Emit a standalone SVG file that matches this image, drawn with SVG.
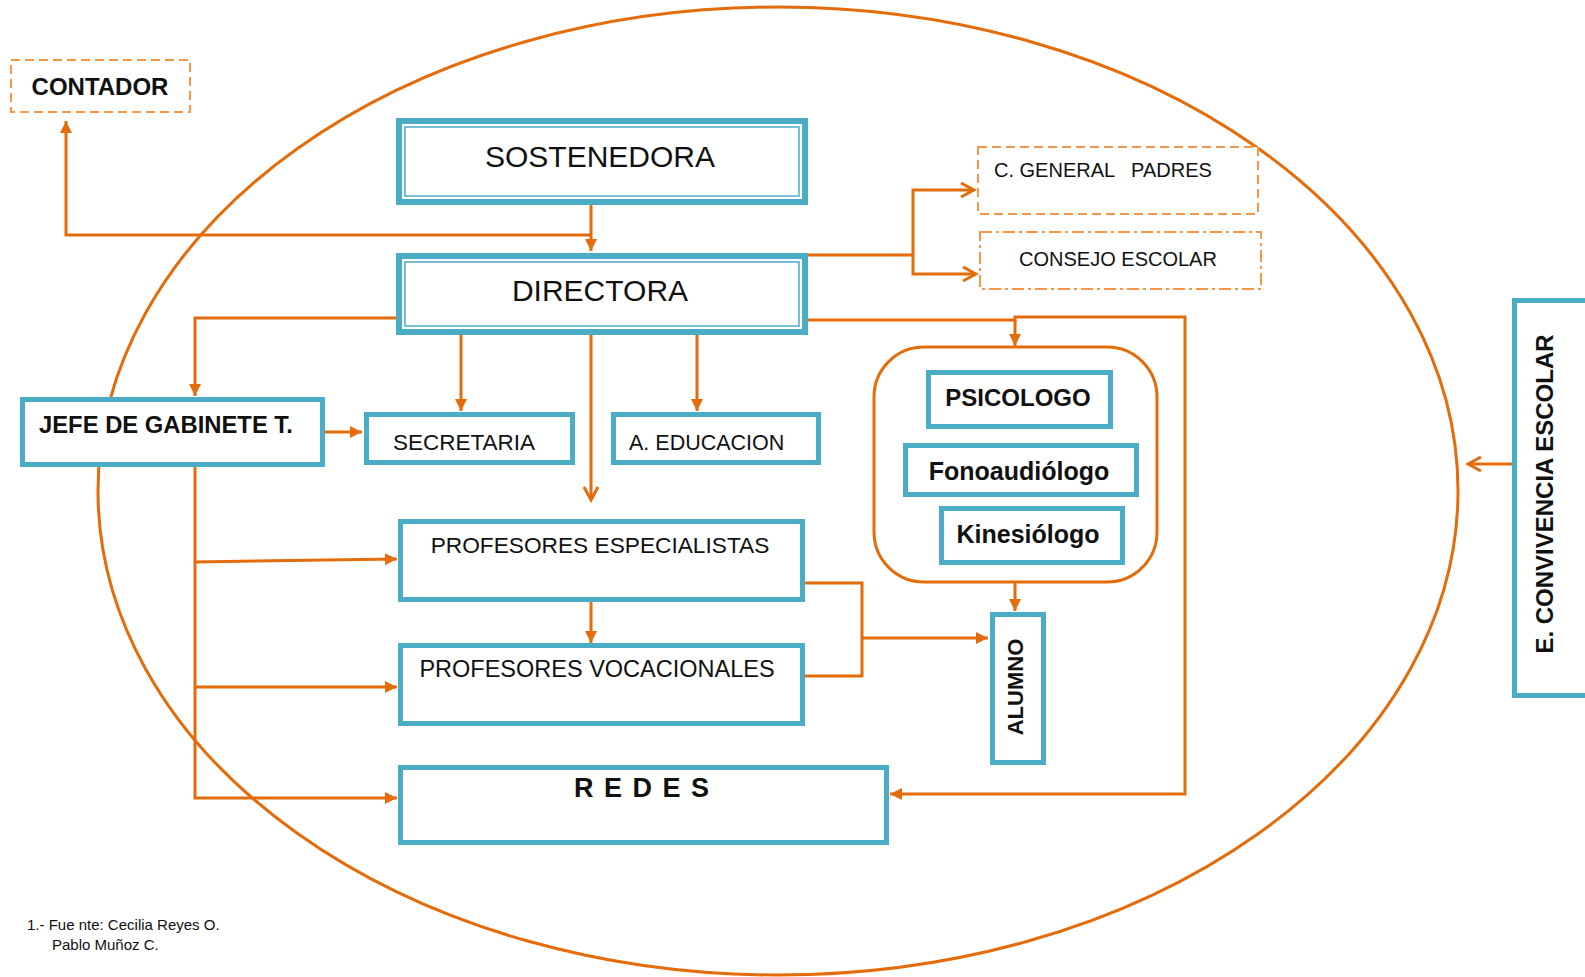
<svg xmlns="http://www.w3.org/2000/svg" width="1585" height="977" viewBox="0 0 1585 977">
<style>
.box{fill:#fff;stroke:#4BACC6;stroke-width:5}
.box2{fill:#fff;stroke:#4BACC6;stroke-width:6}
.thin{fill:none;stroke:#4BACC6;stroke-width:1.5}
.ln{fill:none;stroke:#E46C0A;stroke-width:3}
.dash{fill:#fff;stroke:#F79646;stroke-width:2;stroke-dasharray:9 5}
.dashdot{fill:#fff;stroke:#F79646;stroke-width:2;stroke-dasharray:12 4 3 4}
text{font-family:"Liberation Sans",Arial,sans-serif;fill:#111}
.b{font-weight:bold}
</style>
<defs>
<marker id="tri" markerUnits="userSpaceOnUse" markerWidth="14" markerHeight="14" refX="12" refY="6" orient="auto">
<path d="M0,0 L12,6 L0,12 z" fill="#E46C0A"/>
</marker>
<marker id="chev" markerUnits="userSpaceOnUse" markerWidth="18" markerHeight="18" refX="15" refY="8" orient="auto">
<path d="M2,1 L15,8 L2,15" fill="none" stroke="#E46C0A" stroke-width="3"/>
</marker>
</defs>
<rect width="1585" height="977" fill="#fff"/>
<ellipse cx="778" cy="491" rx="680" ry="484" fill="none" stroke="#E46C0A" stroke-width="3"/>

<g id="connectors">
<path class="ln" d="M591,205 V251" marker-end="url(#tri)"/>
<path class="ln" d="M591,235 H66 V121" marker-end="url(#tri)"/>
<path class="ln" d="M808,255 H913"/>
<path class="ln" d="M913,255 V190 H974" marker-end="url(#chev)"/>
<path class="ln" d="M913,255 V274 H976" marker-end="url(#chev)"/>
<path class="ln" d="M396,318 H195 V396" marker-end="url(#tri)"/>
<path class="ln" d="M461,335 V411" marker-end="url(#tri)"/>
<path class="ln" d="M697,335 V411" marker-end="url(#tri)"/>
<path class="ln" d="M591,335 V500" marker-end="url(#chev)"/>
<path class="ln" d="M325,432 H362" marker-end="url(#tri)"/>
<path class="ln" d="M195,467 V798 H397" marker-end="url(#tri)"/>
<path class="ln" d="M195,562 L397,559" marker-end="url(#tri)"/>
<path class="ln" d="M195,687 H397" marker-end="url(#tri)"/>
<path class="ln" d="M591,601 V643" marker-end="url(#tri)"/>
<path class="ln" d="M805,583 H862 V676 H805"/>
<path class="ln" d="M862,638 H988" marker-end="url(#tri)"/>
<path class="ln" d="M808,320 H1015 V317 H1185 V794 H890" marker-end="url(#tri)"/>
<path class="ln" d="M1015,320 V346" marker-end="url(#tri)"/>
<path class="ln" d="M1015,582 V611" marker-end="url(#tri)"/>
<path class="ln" d="M1512,464 H1468" marker-end="url(#chev)"/>
</g>

<g id="contador">
<rect class="dash" x="11" y="60" width="179" height="52"/>
<text class="b" x="100" y="95" font-size="24" text-anchor="middle">CONTADOR</text>
</g>
<g id="sostenedora">
<rect class="box2" x="399" y="121" width="406" height="81"/>
<rect class="thin" x="405" y="127" width="394" height="69"/>
<text x="600" y="167" font-size="30" text-anchor="middle">SOSTENEDORA</text>
</g>
<g id="directora">
<rect class="box2" x="399" y="256" width="406" height="76"/>
<rect class="thin" x="405" y="262" width="394" height="64"/>
<text x="600" y="301" font-size="30" text-anchor="middle">DIRECTORA</text>
</g>
<g id="c-general-padres">
<rect class="dash" x="978" y="147" width="280" height="67"/>
<text x="994" y="177" font-size="20" xml:space="preserve">C. GENERAL   PADRES</text>
</g>
<g id="consejo-escolar">
<rect class="dashdot" x="980" y="232" width="281" height="57"/>
<text x="1118" y="266" font-size="20" text-anchor="middle">CONSEJO ESCOLAR</text>
</g>
<g id="jefe-gabinete">
<rect class="box" x="22.5" y="399.5" width="300" height="65"/>
<text class="b" x="39" y="433" font-size="23.8">JEFE DE GABINETE T.</text>
</g>
<g id="secretaria">
<rect class="box" x="366.5" y="414.5" width="206" height="48"/>
<text x="393" y="450" font-size="22.5">SECRETARIA</text>
</g>
<g id="a-educacion">
<rect class="box" x="613.5" y="414.5" width="205" height="48"/>
<text x="629" y="450" font-size="21.5">A. EDUCACION</text>
</g>
<g id="profesores-especialistas">
<rect class="box" x="400.5" y="521.5" width="402" height="78"/>
<text x="600" y="553" font-size="22.7" text-anchor="middle">PROFESORES ESPECIALISTAS</text>
</g>
<g id="profesores-vocacionales">
<rect class="box" x="400.5" y="645.5" width="402" height="78"/>
<text x="597" y="677" font-size="23.5" text-anchor="middle">PROFESORES VOCACIONALES</text>
</g>
<g id="redes">
<rect class="box" x="400.5" y="767.5" width="486" height="75"/>
<text class="b" x="574" y="797" font-size="27" letter-spacing="1.5">R E D E S</text>
</g>
<g id="apoyo">
<rect x="874" y="347" width="283" height="235" rx="50" ry="50" fill="#fff" stroke="#E46C0A" stroke-width="3"/>
</g>
<g id="psicologo">
<rect class="box" x="928.5" y="372.5" width="182" height="54"/>
<text class="b" x="1018" y="406" font-size="24" text-anchor="middle">PSICOLOGO</text>
</g>
<g id="fonoaudiologo">
<rect class="box" x="905.5" y="445.5" width="231" height="49"/>
<text class="b" x="1019" y="480" font-size="25" text-anchor="middle">Fonoaudiólogo</text>
</g>
<g id="kinesiologo">
<rect class="box" x="941.5" y="508.5" width="181" height="54"/>
<text class="b" x="1028" y="543" font-size="25" text-anchor="middle">Kinesiólogo</text>
</g>
<g id="alumno">
<rect class="box" x="992.5" y="614.5" width="51" height="148"/>
<text class="b" font-size="22" text-anchor="middle" transform="translate(1023,687) rotate(-90)">ALUMNO</text>
</g>
<g id="e-convivencia-escolar">
<rect class="box" x="1514.5" y="300.5" width="100" height="395"/>
<text class="b" font-size="24" text-anchor="middle" transform="translate(1553,494) rotate(-90)">E. CONVIVENCIA ESCOLAR</text>
</g>
<g id="fuente">
<text x="27" y="930" font-size="15">1.- Fue nte: Cecilia Reyes O.</text>
<text x="52" y="950" font-size="15">Pablo Muñoz C.</text>
</g>
</svg>
